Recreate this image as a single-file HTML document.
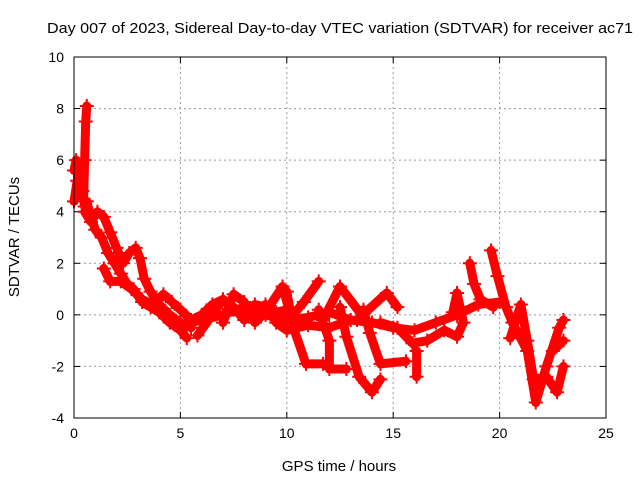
<!DOCTYPE html>
<html><head><meta charset="utf-8"><style>
html,body{margin:0;padding:0;background:#fff}
svg{display:block;font-family:"Liberation Sans",sans-serif}
</style></head><body>
<svg id="chart" width="640" height="480" viewBox="0 0 640 480">
<text x="340" y="33" font-size="15" text-anchor="middle" textLength="586" lengthAdjust="spacingAndGlyphs">Day 007 of 2023, Sidereal Day-to-day VTEC variation (SDTVAR) for receiver ac71</text>
<g id="grid"></g>
<g id="axes"></g>
<g id="series"></g>
<rect x="74" y="57" width="532" height="361" fill="none" stroke="#000" stroke-width="1"/>
<text x="339" y="471" font-size="15" text-anchor="middle">GPS time / hours</text>
<text transform="translate(19,237) rotate(-90)" font-size="15" text-anchor="middle">SDTVAR / TECUs</text>
</svg>
<script>
const xTicks=[0,5,10,15,20,25];
const yTicks=[-4,-2,0,2,4,6,8,10];
const traceA=[[0,5.6],[0.1,6],[0.2,5.5],[0.3,5.2],[0.4,4.8],[0.5,4.2],[0.6,4.4],[0.8,3.8],[1.0,3.3],[1.3,3.0],[1.6,2.4],[1.9,2.0],[2.2,1.6],[2.5,1.2],[2.8,1.0],[3.2,0.5],[3.6,0.3],[4.0,0.1],[4.5,-0.3],[5.0,-0.6],[5.3,-0.9]];
const traceSpike=[[0,4.4],[0.15,5.2],[0.3,5.8],[0.45,4.5],[0.5,6],[0.55,7.5],[0.6,8.1]];
const traceB=[[0.5,4.0],[0.8,3.6],[1.1,4.0],[1.4,3.8],[1.7,3.2],[2.0,2.6],[2.3,2.0],[2.6,2.4],[2.9,2.6],[3.1,2.2],[3.3,1.4],[3.6,0.9],[4.0,0.4],[4.5,0.0],[5.0,-0.3],[5.5,-0.5]];
const traceC=[[1.4,1.8],[1.7,1.3],[2.2,1.3],[2.7,1.0],[3.2,0.6],[3.7,0.4],[4.2,0.8],[4.6,0.5],[5.0,0.2],[5.5,-0.2],[6.0,0.0],[6.5,0.4],[7,0.6],[7.5,0.2],[8,0.0],[8.5,0.4],[9,0.3],[9.5,0.1],[10,0.2]];
const traceD=[[5,-0.4],[6,-0.2],[7,0],[8,0.3],[9,0],[10,-0.2],[11,-0.1],[12,0.1],[13,-0.2],[14,-0.3],[15,-0.5],[16,-0.6],[17,-0.3],[18,0.0],[19,0.4],[20,0.5]];
const traceE=[[5.8,-0.8],[6.5,0],[7,0.6],[7.5,0.3],[8,-0.2],[8.5,0.2],[9,0.4],[9.5,-0.3],[10,-0.6],[11,-0.4],[12,-0.5],[13,-0.2]];
const traceF=[[7,-0.3],[7.5,0.8],[8,0.5],[8.5,-0.3],[9,0.1],[9.8,1.1],[10.2,-0.1]];
const drop1=[[10.0,0.9],[10.3,-0.47],[10.9,-1.9],[11.7,-1.9]];
const drop2=[[11.5,0.2],[12.0,-1.0],[12.0,-2.1],[12.8,-2.1]];
const drop3=[[12.5,0.3],[12.8,-0.85],[13.4,-2.4],[14.0,-3.0],[14.4,-2.5]];
const drop4=[[13.6,0.2],[13.9,-0.7],[14.4,-1.9],[15.6,-1.8]];
const rise1=[[10.2,-0.1],[10.8,0.5],[11.5,1.3]];
const rise2=[[11.7,-0.2],[12.5,1.1],[13.7,-0.2]];
const rise3=[[13.3,-0.2],[14.7,0.85],[15.2,0.3]];
const lowPath=[[14.4,-0.3],[15.2,-0.5],[15.9,-1.1],[16.6,-1.0],[17.4,-0.6],[18.0,-0.85],[18.3,-0.3],[18.0,0.85],[17.8,0.1]];
const spikeDown=[[16.1,-1.4],[16.1,-2.4]];
const late1=[[18.6,2.0],[18.8,1.2],[19.1,0.6],[19.7,0.3]];
const late2=[[19.6,2.5],[19.9,1.5],[20.3,0.3],[20.6,-0.3],[21.3,-1.4],[21.7,-3.4],[22.2,-2.0],[22.8,-0.5],[23.0,-0.2]];
const late3=[[20.5,-0.9],[21.0,0.4],[21.3,-1.0],[21.6,-2.5],[22.2,-2.4],[22.7,-3.0],[23.0,-2.0]];
const late4=[[22.5,-1.4],[23,-1.0]];
const traces=[traceA,traceSpike,traceB,traceC,traceD,traceE,traceF,drop1,drop2,drop3,drop4,rise1,rise2,rise3,lowPath,spikeDown,late1,late2,late3,late4];

const NS="http://www.w3.org/2000/svg";
const X0=74,X1=606,Y0=418,Y1=57;
function sx(v){return X0+(v-0)/(25-0)*(X1-X0);}
function sy(v){return Y0-(v+4)/(14)*(Y0-Y1);}
function mk(tag,attrs,parent){const e=document.createElementNS(NS,tag);for(const k in attrs)e.setAttribute(k,attrs[k]);parent.appendChild(e);return e;}
const grid=document.getElementById('grid'),axes=document.getElementById('axes'),ser=document.getElementById('series');
xTicks.forEach(t=>{const x=sx(t);
 if(t>0&&t<25){const l=mk('line',{x1:x,x2:x,y1:Y1,y2:Y0,stroke:'#999','stroke-dasharray':'2,3'},grid);
 
 }
 mk('line',{x1:x,x2:x,y1:Y0,y2:Y0-6,stroke:'#000'},axes);
 mk('line',{x1:x,x2:x,y1:Y1,y2:Y1+6,stroke:'#000'},axes);
 const tx=mk('text',{x:x,y:Y0+20,'font-size':14,'text-anchor':'middle'},axes);tx.textContent=t;
 
 });
yTicks.forEach(t=>{const y=sy(t);
 if(t>-4&&t<10){const l=mk('line',{x1:X0,x2:X1,y1:y,y2:y,stroke:'#999','stroke-dasharray':'2,3'},grid);
 
 }
 mk('line',{x1:X0,x2:X0+6,y1:y,y2:y,stroke:'#000'},axes);
 mk('line',{x1:X1,x2:X1-6,y1:y,y2:y,stroke:'#000'},axes);
 const tx=mk('text',{x:X0-10,y:y+5,'font-size':14,'text-anchor':'end'},axes);tx.textContent=t;
 
 });
traces.forEach(tr=>{
 const pts=tr.map(p=>sx(p[0])+','+sy(p[1])).join(' ');
 const pl=mk('polyline',{points:pts,fill:'none',stroke:'#ff0000','stroke-width':9,'stroke-linejoin':'round','stroke-linecap':'round'},ser);
 
 
 tr.forEach(p=>{const x=sx(p[0]),y=sy(p[1]);
  const m=mk('path',{d:`M${x-7},${y}H${x+7}M${x},${y-7}V${y+7}`,stroke:'#ff0000','stroke-width':2},ser);
  
  });
});
</script>
</body></html>
